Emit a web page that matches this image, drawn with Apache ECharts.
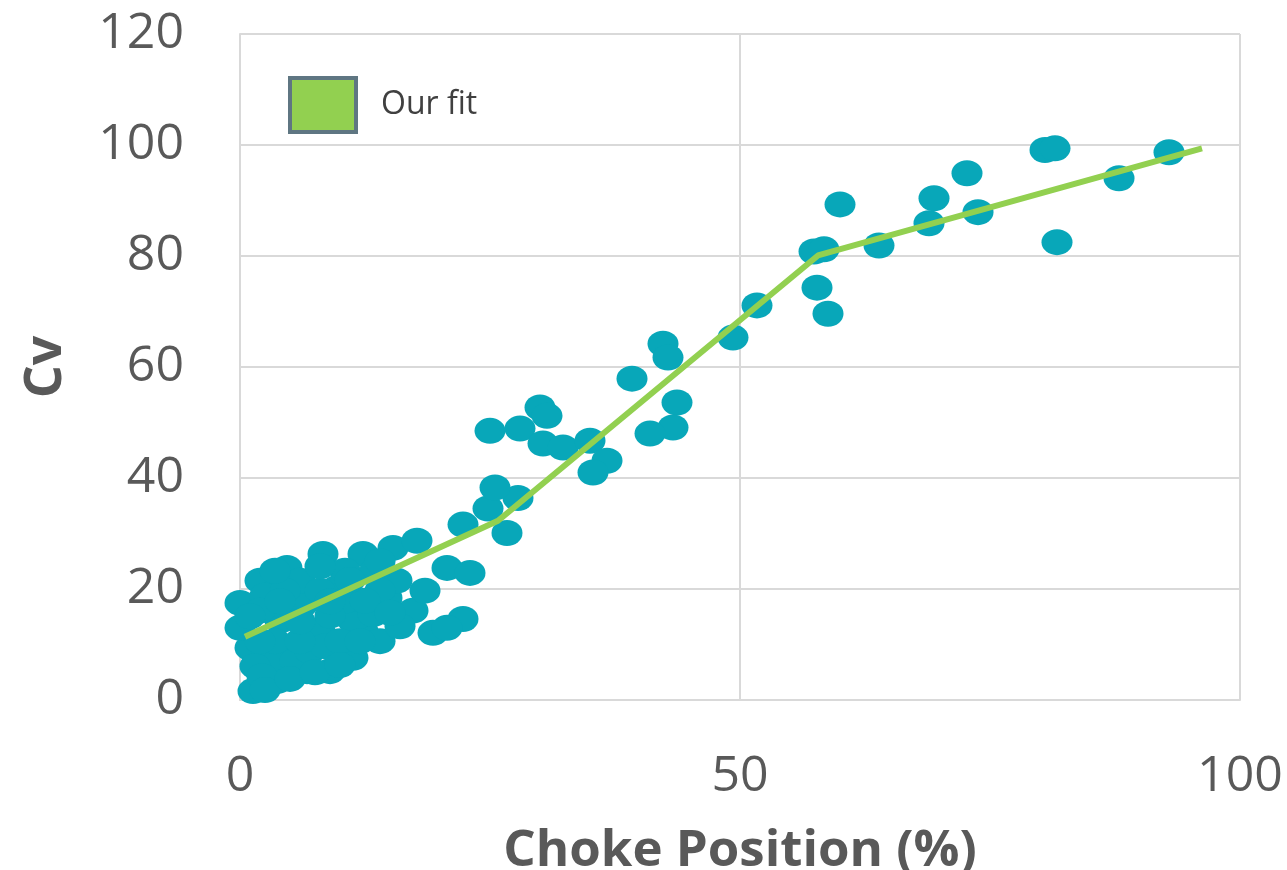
<!DOCTYPE html>
<html>
<head>
<meta charset="utf-8">
<script src="https://cdn.jsdelivr.net/npm/echarts@6/dist/echarts.min.js"></script>
<style>html,body{margin:0;padding:0;background:#fff}#c{width:1287px;height:870px}</style>
</head>
<body>
<div id="c"></div>
<script>
// Measured data (Choke Position %, Cv)
const chokePos = [
  8.3,12.3,15.3,17.7,20.7,23.0,4.7,2.0,0.0,17.3,22.3,19.3,20.7,11.3,1.0,1.3,3.7,6.7,9.0,12.3,
  14.7,15.7,9.7,6.3,4.0,8.0,4.7,3.0,0.0,11.3,13.3,2.5,6.0,3.5,5.5,10.5,13.5,9.0,7.0,1.5,
  2.0,10.5,14.0,12.5,4.5,8.5,10.0,2.2,18.5,
  2.5,5.0,7.5,10.0,14.0,16.0,15.0,6.0,2.0,4.0,8.0,11.0,12.0,9.0,6.0,1.0,3.5,8.0,14.0,
  22.3,26.7,24.8,27.8,25.5,25.0,28.0,30.0,30.7,30.3,32.3,35.0,36.7,35.3,39.2,42.3,42.8,43.7,43.3,41.0,
  49.3,51.7,57.7,58.8,57.4,58.4,60.0,63.9,68.9,69.4,72.7,73.8,80.5,81.5,81.7,87.9,92.9
];
const cvValues = [
  26.3,26.3,27.4,28.7,23.8,22.9,23.8,21.5,17.5,16.1,14.6,12.1,13.0,7.6,9.4,1.6,3.4,5.2,5.2,12.4,
  18.4,21.5,20.2,17.3,14.3,12.4,9.4,7.0,13.0,14.3,15.5,18.8,21.5,10.6,7.0,17.9,23.3,15.2,8.8,6.1,
  16.1,23.3,19.7,17.9,19.7,9.7,10.6,4.3,19.7,
  1.8,3.8,5.0,6.3,10.6,13.3,15.7,10.6,10.6,17.8,19.7,21.6,10.6,17.8,14.2,15.1,23.3,24.1,25.0,
  31.6,30.1,34.5,36.4,38.3,48.5,48.9,52.7,51.2,46.2,45.5,46.7,43.1,41.0,57.9,64.2,61.7,53.6,49.1,48.0,
  65.3,71.1,74.3,69.6,80.8,81.2,89.3,81.9,85.9,90.4,94.9,87.9,99.1,99.4,82.5,94.0,98.7
];
const fitX = [0.5, 25.8, 57.8, 96.2];
const fitY = [11.4, 32.3, 80.1, 99.4];
const xTicks = [0, 50, 100];
const yTicks = [0, 20, 40, 60, 80, 100, 120];

const scatterData = chokePos.map((x, i) => [x, cvValues[i]]);
const fitData = fitX.map((x, i) => [x, fitY[i]]);

const chart = echarts.init(document.getElementById('c'));
const grey = '#595959';
const gridLine = '#d9d9d9';
chart.setOption({
  animation: false,
  backgroundColor: '#fff',
  grid: { left: 240, right: 47, top: 34, bottom: 170, containLabel: false, outerBoundsMode: 'none' },
  legend: {
    left: 283, top: 71,
    itemWidth: 66, itemHeight: 54,
    data: [{ name: 'Our fit', icon: 'rect',
      itemStyle: { color: '#92d050', borderColor: '#5f7682', borderWidth: 4 } }],
    textStyle: { fontFamily: 'Open Sans', fontSize: 32, color: '#404040', padding: [0, 0, 0, 20] }
  },
  xAxis: {
    type: 'value', min: xTicks[0], max: xTicks[xTicks.length - 1], interval: 50,
    name: 'Choke Position (%)', nameLocation: 'middle', nameGap: 126,
    nameTextStyle: { fontFamily: 'Open Sans', fontWeight: 'bold', fontSize: 51, color: grey },
    axisLine: { show: true, lineStyle: { color: gridLine, width: 2 } },
    axisTick: { show: false },
    axisLabel: { fontFamily: 'Open Sans', fontSize: 50, color: grey, margin: 52 },
    splitLine: { show: true, lineStyle: { color: gridLine, width: 2 } }
  },
  yAxis: {
    type: 'value', min: yTicks[0], max: yTicks[yTicks.length - 1], interval: 20,
    name: 'Cv', nameLocation: 'middle', nameGap: 168, nameRotate: 90,
    nameTextStyle: { fontFamily: 'Open Sans', fontWeight: 'bold', fontSize: 52, color: grey },
    axisLine: { show: true, lineStyle: { color: gridLine, width: 2 } },
    axisTick: { show: false },
    axisLabel: { fontFamily: 'Open Sans', fontSize: 50, color: grey, margin: 56 },
    splitLine: { show: true, lineStyle: { color: gridLine, width: 2 } }
  },
  series: [
    {
      name: 'Data', type: 'scatter', data: scatterData,
      symbol: 'circle', symbolSize: [31, 26],
      itemStyle: { color: '#08a7b9', opacity: 1 },
      z: 2
    },
    {
      name: 'Our fit', type: 'line', data: fitData,
      showSymbol: false, symbol: 'none',
      lineStyle: { color: '#92d050', width: 6 },
      itemStyle: { color: '#92d050' },
      z: 3
    }
  ]
});
</script>
</body>
</html>
